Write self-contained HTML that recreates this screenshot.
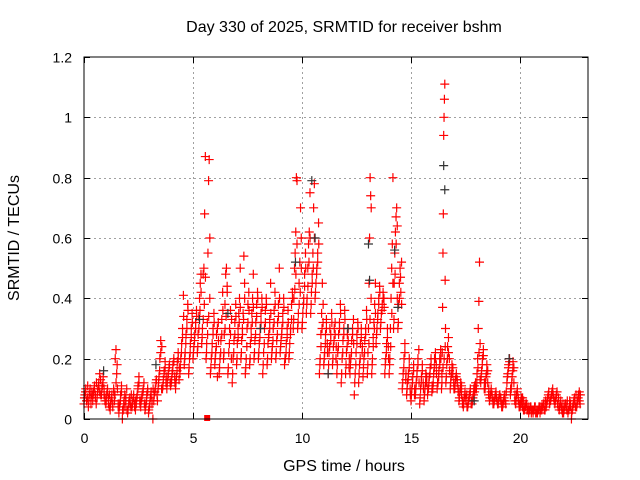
<!DOCTYPE html>
<html><head><meta charset="utf-8"><style>
body{margin:0;background:#fff}
svg{display:block;font-family:"Liberation Sans",sans-serif}
</style></head><body>
<svg id="chart" width="640" height="480">
<text x="344" y="32" text-anchor="middle" font-size="16">Day 330 of 2025, SRMTID for receiver bshm</text>
<text x="344" y="471" text-anchor="middle" font-size="16">GPS time / hours</text>
<text transform="translate(19,238) rotate(-90)" text-anchor="middle" font-size="16">SRMTID / TECUs</text>
<g id="grid"></g>
<g id="ticks"></g>
<g id="red"></g>
<g id="black"></g>
<rect x="84" y="57" width="504" height="362" fill="none" stroke="#000" stroke-width="1"/>
</svg>
<script>
const xTicks=[0,5,10,15,20];
const yTicks=[0,0.2,0.4,0.6,0.8,1,1.2];
const yTickLabels=["0","0.2","0.4","0.6","0.8","1","1.2"];
const binStart=0, binStep=0.2;
const redBins=[
[.05,.08,.1,.06,.07],[.04,.08,.1,.07,.09],[.06,.09,.11,.08,.05],[.07,.1,.12,.09,.13],[.08,.11,.14,.1,.06],
[.05,.08,.1,.07,.04],[.03,.06,.08,.05,.1],[.06,.2,.23,.15,.1,.04],[.02,.05,.08,.11,0],[.03,.06,.04,.07,.1],
[.02,.05,.07,.04],[.04,.06,.08,.05,.03],[.05,.08,.11,.14,.06],[.04,.07,.09,.12],[.03,.05,.08,.1,.02],
[.04,.07,.09,.05,0],[.06,.09,.12,.08],[.1,.14,.2,.26,.1],[.1,.13,.16,.19,.12],[.1,.14,.17,.12],
[.12,.15,.18,.2,.14],[.1,.14,.19,.22,.13],[.15,.2,.25,.3,.41],[.18,.22,.28,.33,.38],[.15,.2,.25,.3,.35],
[.2,.24,.28,.32,.36],[.22,.28,.34,.4,.45,.48],[.25,.3,.48,.5,.68,.87],[.2,.25,.32,.55,.79,.86,.6],[.15,.2,.25,.3,.35],
[.18,.22,.28,.14,.32],[.15,.2,.26,.33,.42],[.2,.28,.38,.48,.5,.44],[.15,.22,.3,.36,.2],[.12,.2,.26,.32,.38],
[.18,.25,.3,.35,.4,.5],[.2,.26,.3,.35,.54,.45],[.15,.2,.3,.38,.42],[.18,.25,.3,.35,.4,.48],[.2,.26,.32,.38,.42],
[.2,.25,.3,.35,.4],[.15,.22,.3,.36,.4],[.18,.25,.28,.33,.45],[.2,.24,.3,.36,.42],[.2,.26,.32,.38,.5],
[.22,.26,.3,.35,.4],[.18,.2,.25,.3,.36],[.2,.25,.3,.38,.42],[.3,.4,.5,.55,.62,.8,.79],[.3,.35,.45,.52,.7,.6],
[.3,.35,.4,.48,.55],[.35,.4,.5,.58,.62,.75],[.35,.42,.48,.55,.7,.78],[.4,.45,.5,.55,.65],[.15,.2,.28,.35,.45,.32],
[.18,.22,.28,.33,.25],[.15,.22,.3,.26,.35],[.18,.24,.3,.28,.2],[.15,.22,.28,.32,.38],[.12,.2,.26,.3,.36],
[.15,.22,.28,.3,.17],[.15,.2,.26,.3,.33],[.08,.15,.22,.28,.32],[.12,.18,.25,.3,.22],[.14,.2,.26,.3,.36],
[.15,.22,.3,.45,.6,.8,.74,.7],[.15,.2,.27,.32,.38,.45],[.25,.3,.35,.4,.44],[.3,.35,.38,.42,.4],[.15,.2,.25,.3,.24],
[.15,.2,.3,.4,.5,.58,.8],[.3,.45,.55,.62,.67,.7,.4],[.3,.38,.45,.5,.42,.52],[.1,.15,.2,.25,.13],[.08,.12,.15,.2,.1],
[.06,.1,.14,.18,.08],[.08,.12,.16,.2,.23],[.05,.1,.14,.18,.12],[.06,.1,.15,.12,.08],[.1,.14,.17,.2,.09],
[.1,.15,.2,.22,.18],[.1,.12,.16,.2,.23],[.1,.15,.22,.37,.55,.68,.94,1.0,1.06,1.11,.46,.3],[.12,.18,.24,.27,.2],[.1,.14,.18,.15,.12],
[.1,.13,.15,.12,.1],[.06,.09,.12,.08,.05],[.04,.07,.09,.06,.08],[.04,.06,.08,.1,.05],[.05,.07,.1,.09,.12],
[.1,.15,.2,.3,.39,.52,.13],[.12,.16,.2,.23,.1],[.1,.14,.18,.12,.08],[.06,.08,.1,.07,.05],[.05,.07,.09,.06],
[.05,.07,.08,.06,.04],[.04,.06,.08,.05],[.12,.15,.18,.2,.08],[.1,.14,.19,.12,.06],[.05,.08,.1,.06,.04],
[.04,.06,.05,.07,.03],[.03,.04,.05,.03],[.02,.03,.04,.03],[.02,.03,.04,.02],[.02,.03,.04,.03],
[.03,.04,.05,.03],[.04,.06,.08,.05],[.06,.08,.1,.07],[.05,.07,.09,.04],[.03,.05,.04,.02],
[.02,.04,.05,.03],[.02,.03,.06,.04,0],[.03,.05,.07,.04],[.04,.06,.08,.09,.05]
];
const redBins2=[
[.07,.09,.06,.11],[.06,.09,.05,.08],[.08,.1,.07,.12],[.09,.11,.15,.08],[.1,.12,.08,.07],
[.06,.09,.05,.08],[.05,.07,.04,.09],[.08,.12,.18,.05],[.04,.06,.09,.03],[.05,.08,.06,.03],
[.03,.06,.05,.08],[.05,.07,.04,.06],[.07,.1,.12,.05],[.06,.08,.1,.05],[.04,.06,.09,.03],
[.05,.08,.06,.1],[.08,.1,.13,.06],[.12,.16,.22,.24],[.11,.15,.17,.14],[.12,.15,.18,.11],
[.13,.16,.19,.12],[.12,.16,.2,.17],[.17,.22,.27,.34],[.2,.25,.3,.36],[.17,.22,.27,.32],
[.22,.26,.3,.34],[.24,.3,.36,.42],[.27,.33,.38,.47],[.22,.28,.34,.4],[.17,.22,.28,.32],
[.2,.24,.3,.26],[.17,.22,.28,.36],[.22,.3,.34,.42],[.17,.25,.28,.33],[.15,.22,.28,.34],
[.2,.27,.32,.37],[.22,.28,.33,.4],[.17,.24,.32,.36],[.2,.27,.32,.37],[.22,.28,.34,.4],
[.22,.27,.32,.37],[.18,.25,.32,.38],[.2,.27,.3,.35],[.22,.26,.32,.38],[.22,.28,.34,.4],
[.24,.28,.32,.37],[.2,.22,.27,.32],[.22,.28,.33,.4],[.33,.43,.48,.58],[.32,.38,.42,.5],
[.32,.38,.44,.5],[.38,.44,.52,.6],[.38,.45,.5,.6],[.42,.48,.52,.58],[.18,.24,.3,.38],
[.2,.25,.3,.22],[.18,.24,.28,.32],[.2,.26,.32,.24],[.18,.24,.3,.35],[.15,.22,.28,.33],
[.18,.24,.26,.2],[.18,.22,.28,.25],[.12,.18,.25,.3],[.15,.2,.27,.24],[.17,.22,.28,.33],
[.18,.25,.33,.4],[.18,.24,.3,.35],[.28,.33,.38,.42],[.32,.36,.4,.37],[.18,.22,.27,.2],
[.18,.24,.35,.45],[.33,.48,.58,.64],[.32,.4,.47,.38],[.12,.17,.22,.15],[.1,.13,.17,.08],
[.08,.12,.16,.1],[.1,.14,.18,.12],[.07,.12,.16,.1],[.08,.12,.14,.1],[.12,.15,.18,.11],
[.12,.17,.2,.15],[.12,.14,.18,.2],[.12,.17,.2,.24],[.14,.2,.22,.16],[.12,.15,.17,.1],
[.11,.14,.13,.09],[.07,.1,.11,.06],[.05,.08,.07,.04],[.05,.07,.09,.06],[.06,.08,.11,.1],
[.12,.17,.22,.25],[.14,.18,.21,.12],[.12,.15,.16,.1],[.07,.09,.08,.06],[.06,.08,.07,.05],
[.06,.08,.07,.05],[.05,.07,.06,.09],[.14,.17,.19,.1],[.12,.16,.17,.08],[.06,.09,.07,.05],
[.05,.07,.04,.06],[.04,.05,.03,.04],[.03,.04,.02,.03],[.03,.04,.02,.03],[.03,.04,.02,.04],
[.04,.05,.03,.06],[.05,.07,.09,.06],[.07,.09,.08,.06],[.06,.08,.05,.07],[.04,.06,.03,.05],
[.03,.05,.04,.06],[.03,.04,.05,.02],[.04,.06,.05,.08],[.05,.07,.06,.08]
];
const blackTimes=[0.9,3.3,5.3,6.6,8.1,9.7,10.45,10.6,11.2,12.1,13.05,13.1,14.25,14.4,16.5,16.55,17.9,19.5];
const blackValues=[0.16,0.18,0.33,0.35,0.3,0.52,0.79,0.6,0.15,0.3,0.58,0.46,0.56,0.37,0.84,0.76,0.06,0.2];
const X0=84,X1=588,Y0=419,Y1=57,XMAX=23.12,YMAX=1.2;
const xs=h=>X0+h*(X1-X0)/XMAX;
const ys=v=>Y0-v*(Y0-Y1)/YMAX;
const NS="http://www.w3.org/2000/svg";
const grid=document.getElementById('grid'),ticks=document.getElementById('ticks');
function ln(p,x1,y1,x2,y2,st,da){const l=document.createElementNS(NS,'line');l.setAttribute('x1',x1);l.setAttribute('y1',y1);l.setAttribute('x2',x2);l.setAttribute('y2',y2);l.setAttribute('stroke',st);if(da)l.setAttribute('stroke-dasharray',da);p.appendChild(l);return l;}
xTicks.forEach(t=>{const x=Math.round(xs(t))+0.5;
 if(t>0){const g=ln(grid,x,Y1,x,Y0,'#a0a0a0','2,3');

}
 ln(ticks,x,Y0,x,Y0-6,'#000');ln(ticks,x,Y1,x,Y1+6,'#000');
 const tx=document.createElementNS(NS,'text');tx.setAttribute('x',x);tx.setAttribute('y',Y0+24);tx.setAttribute('text-anchor','middle');tx.setAttribute('font-size','14');tx.textContent=t;


 ticks.appendChild(tx);});
yTicks.forEach((t,i)=>{const y=Math.round(ys(t))+0.5;
 if(t>0&&t<1.2){const g=ln(grid,X0,y,X1,y,'#a0a0a0','2,3');

}
 ln(ticks,X0,y,X0+6,y,'#000');ln(ticks,X1,y,X1-6,y,'#000');
 const tx=document.createElementNS(NS,'text');tx.setAttribute('x',X0-12);tx.setAttribute('y',y+5);tx.setAttribute('text-anchor','end');tx.setAttribute('font-size','14');tx.textContent=yTickLabels[i];


 ticks.appendChild(tx);});
function plus(p,h,v,c){const x=xs(h),y=ys(v);const pa=document.createElementNS(NS,'path');
 pa.setAttribute('d',`M${x-4.5} ${y}H${x+4.5}M${x} ${y-4.5}V${y+4.5}`);pa.setAttribute('stroke',c);pa.setAttribute('stroke-width','1.2');


 p.appendChild(pa);}
const red=document.getElementById('red'),black=document.getElementById('black');
blackTimes.forEach((t,i)=>plus(black,t,blackValues[i],'#333333'));
redBins.forEach((vals,i)=>{const t=binStart+i*binStep;vals.forEach((v,j)=>plus(red,t+j*binStep/vals.length,v,'#ff0000'));});
redBins2.forEach((vals,i)=>{const t=binStart+i*binStep+binStep*0.1;vals.forEach((v,j)=>plus(red,t+j*binStep/vals.length,v,'#ff0000'));});
document.getElementById('chart').appendChild(black);
const sq=document.createElementNS(NS,'rect');sq.setAttribute('x',xs(5.65)-3);sq.setAttribute('y',Y0-4);sq.setAttribute('width',6);sq.setAttribute('height',6);sq.setAttribute('fill','#ff0000');


red.appendChild(sq);
</script>
</body></html>
